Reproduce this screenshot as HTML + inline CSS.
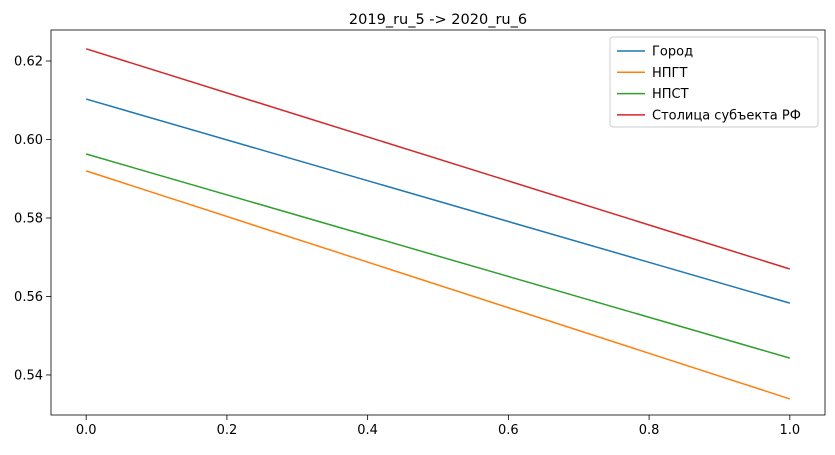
<!DOCTYPE html>
<html><head><meta charset="utf-8"><style>
body{margin:0;background:#fff;}
svg text{font-family:"DejaVu Sans","Liberation Sans",sans-serif;}
</style></head><body>
<svg id="chart" width="835" height="450" xmlns="http://www.w3.org/2000/svg">
<rect width="835" height="450" fill="#fff"/>
<text x="438" y="24" text-anchor="middle" font-size="14.5" fill="#000">2019_ru_5 -&gt; 2020_ru_6</text>
<g id="plot"></g>
</svg>
<script>
const categories = ["Город","НПГТ","НПСТ","Столица субъекта РФ"];
const colors = ["#1f77b4","#ff7f0e","#2ca02c","#d62728"];
const xValues = [0, 1];
const startValues = [0.6103, 0.5920, 0.5963, 0.6231];
const endValues = [0.5583, 0.5339, 0.5443, 0.5670];
const xTicks = [0.0,0.2,0.4,0.6,0.8,1.0];
const xTickLabels = ["0.0","0.2","0.4","0.6","0.8","1.0"];
const yTicks = [0.54,0.56,0.58,0.60,0.62];
const yTickLabels = ["0.54","0.56","0.58","0.60","0.62"];

const L=51,R=825,T=30,B=415;
const xMin=-0.05,xMax=1.05,yMin=0.5298,yMax=0.6279;
const xs=v=>L+(v-xMin)/(xMax-xMin)*(R-L);
const ys=v=>B-(v-yMin)/(yMax-yMin)*(B-T);
const NS="http://www.w3.org/2000/svg";
const g=document.getElementById('plot');
function mk(tag,attrs){const e=document.createElementNS(NS,tag);for(const k in attrs)e.setAttribute(k,attrs[k]);g.appendChild(e);return e;}

xTicks.forEach((t,i)=>{
  const x=xs(t);
  const l=mk('line',{x1:x,x2:x,y1:B,y2:B+5,stroke:'#000','stroke-width':0.8});
  
  
  const tx=mk('text',{x:x,y:B+19,'text-anchor':'middle','font-size':13});
  tx.textContent=xTickLabels[i];
  
  
});
yTicks.forEach((t,i)=>{
  const y=ys(t);
  const l=mk('line',{x1:L-5,x2:L,y1:y,y2:y,stroke:'#000','stroke-width':0.8});
  
  
  const tx=mk('text',{x:L-8,y:y+4.5,'text-anchor':'end','font-size':13});
  tx.textContent=yTickLabels[i];
  
  
});
categories.forEach((c,i)=>{
  const l=mk('line',{x1:xs(xValues[0]),y1:ys(startValues[i]),x2:xs(xValues[1]),y2:ys(endValues[i]),stroke:colors[i],'stroke-width':1.5});
  
  
});
const frame=mk('rect',{x:L,y:T,width:R-L,height:B-T,fill:'none',stroke:'#000','stroke-width':0.8});



const lg=mk('rect',{x:610,y:37,width:208,height:90,rx:3,fill:'#fff','fill-opacity':0.8,stroke:'#ccc','stroke-width':1});


categories.forEach((c,i)=>{
  const y=51+i*21.3;
  const l=mk('line',{x1:617,x2:645,y1:y,y2:y,stroke:colors[i],'stroke-width':1.5});
  
  
  const t=mk('text',{x:652,y:y+4.5,'font-size':13});
  t.textContent=c;
  
  
});
</script>
</body></html>
